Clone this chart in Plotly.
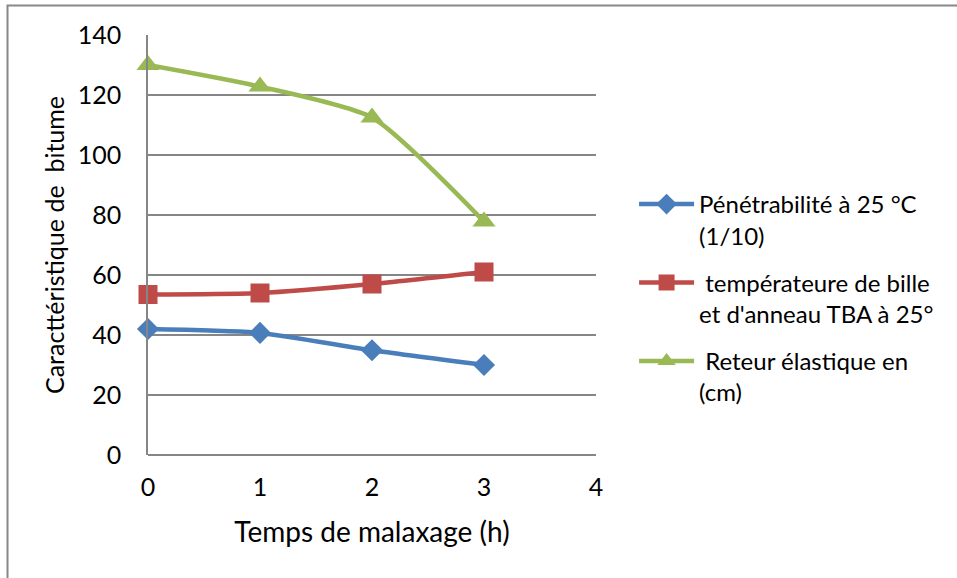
import plotly.graph_objects as go

# Mixing time (h)
temps = [0, 1, 2, 3]

# Bitumen characteristics measured after each mixing time
penetrabilite = [42, 40.7, 34.9, 30]
temperature_tba = [53.5, 54, 57, 61]
retour_elastique = [130, 122.8, 112.5, 77.8]

noms = [
    "Pénétrabilité à 25 °C<br>(1/10)",
    " températeure de bille<br>et d'anneau TBA à 25°",
    " Reteur élastique en<br>(cm)",
]
couleurs = ["#4A7EBB", "#BE4B48", "#98B954"]
symboles = ["diamond", "square", "triangle-up"]
tailles = [17, 19, 20]
series = [penetrabilite, temperature_tba, retour_elastique]

FONT = "Lato, 'Open Sans', sans-serif"

fig = go.Figure()
for i, (nom, vals, c, s, t) in enumerate(zip(noms, series, couleurs, symboles, tailles)):
    fig.add_trace(go.Scatter(
        x=temps, y=vals, name=nom, legendgroup=f"g{i}",
        mode="lines+markers", cliponaxis=False,
        line=dict(color=c, width=4.5, shape="spline", smoothing=0.6),
        marker=dict(symbol=s, size=t, color=c),
    ))

grid = "#868686"
fig.update_layout(
    width=957, height=578,
    margin=dict(l=148, r=361, t=35, b=123),
    paper_bgcolor="white", plot_bgcolor="white",
    font=dict(family=FONT, size=25, color="black"),
    showlegend=True,
    legend=dict(
        x=1.085, y=0.65, xanchor="left", yanchor="top",
        valign="top", itemwidth=55, tracegroupgap=13,
        font=dict(family=FONT, size=24, color="black"),
        bgcolor="rgba(0,0,0,0)",
    ),
    xaxis=dict(
        range=[0, 4], tickvals=[0, 1, 2, 3, 4],
        showgrid=False, zeroline=False, showline=False,
        ticks="", ticklabelstandoff=15,
        title=dict(text="Temps de malaxage (h)", standoff=22,
                   font=dict(family=FONT, size=28)),
    ),
    yaxis=dict(
        range=[0, 140], tickvals=list(range(0, 141, 20)),
        showgrid=True, gridcolor=grid, gridwidth=1.5,
        zeroline=True, zerolinecolor=grid, zerolinewidth=1.5,
        showline=True, linecolor=grid, linewidth=1.5,
        ticks="", ticklabelstandoff=20,
        title=dict(text="Caracttéristique de  bitume", standoff=6,
                   font=dict(family=FONT, size=25)),
    ),
    shapes=[dict(
        type="rect", xref="paper", yref="paper",
        x0=(7.5 - 148) / 448, x1=(980 - 148) / 448,
        y0=(455 - 600) / 420, y1=(455 - 5.5) / 420,
        line=dict(color="#888888", width=2), layer="below",
    )],
)

fig.write_html("out.html")
